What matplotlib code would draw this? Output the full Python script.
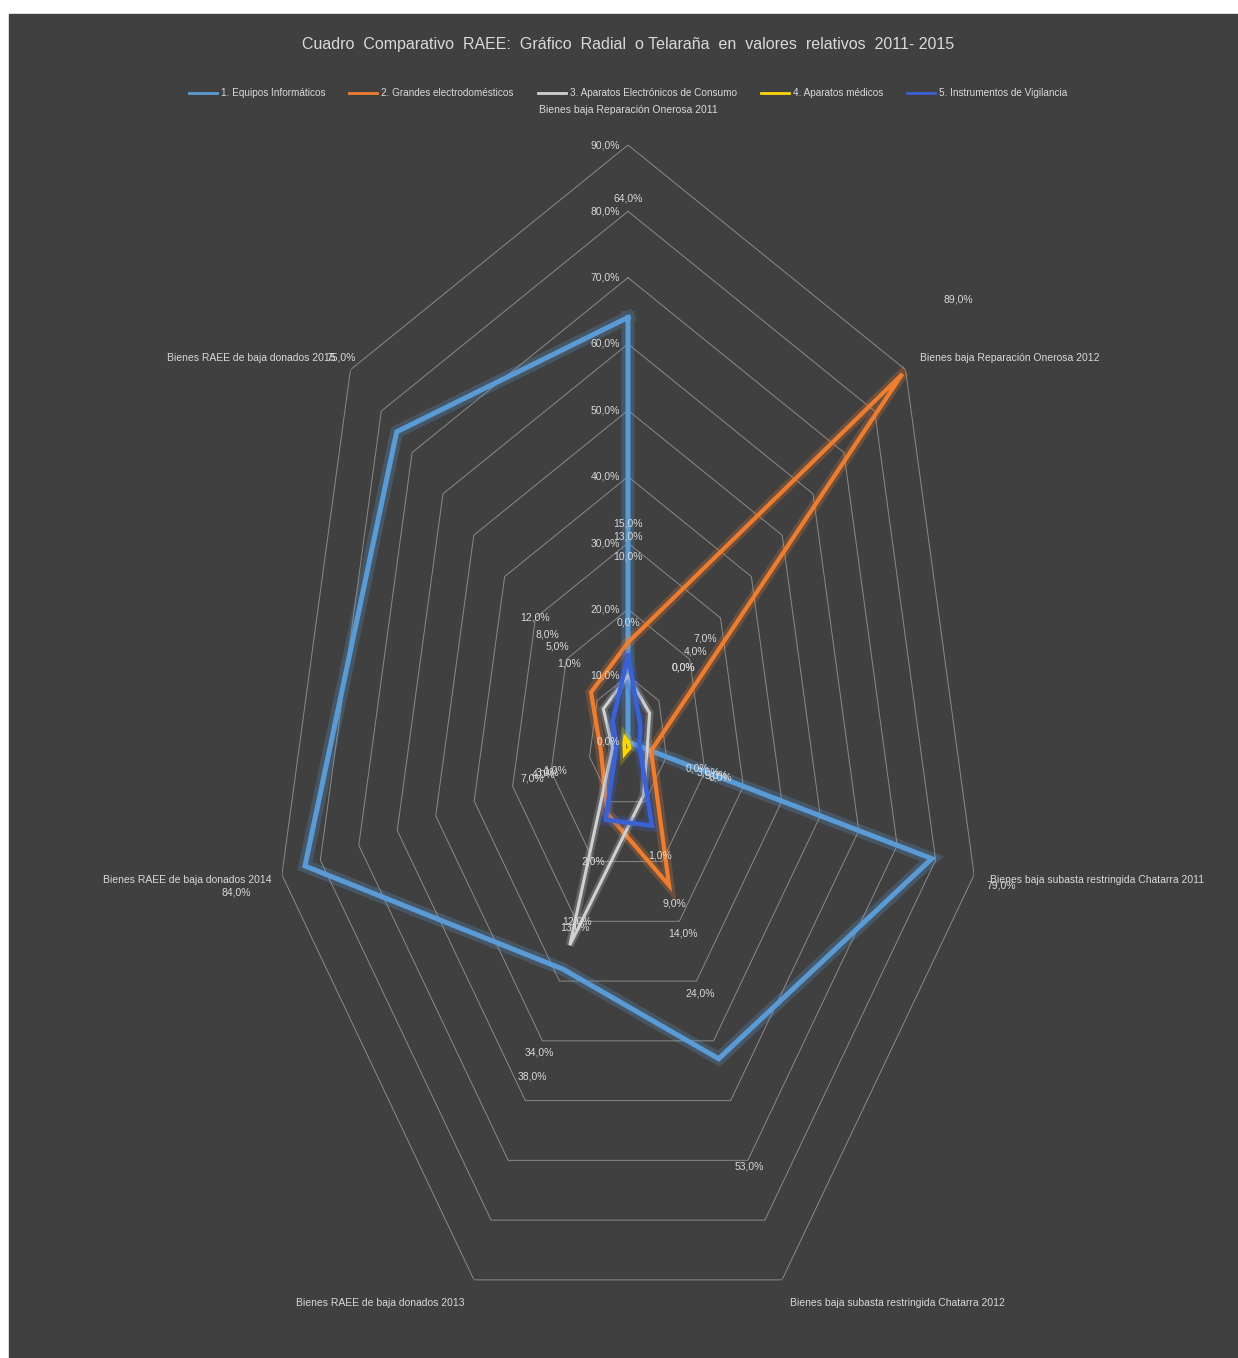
import numpy as np
import matplotlib
matplotlib.use("Agg")
import matplotlib.pyplot as plt
from matplotlib.patches import Rectangle
from matplotlib.lines import Line2D

# --- datos (valores relativos, %) ---
categorias = [
    "Bienes baja Reparación Onerosa 2011",
    "Bienes baja Reparación Onerosa 2012",
    "Bienes baja subasta restringida Chatarra 2011",
    "Bienes baja subasta restringida Chatarra 2012",
    "Bienes RAEE de baja donados 2013",
    "Bienes RAEE de baja donados 2014",
    "Bienes RAEE de baja donados 2015",
]
series = [
    "1. Equipos Informáticos",
    "2. Grandes electrodomésticos",
    "3. Aparatos Electrónicos de Consumo",
    "4. Aparatos médicos",
    "5. Instrumentos de Vigilancia",
]
equipos_informaticos = [64, 0, 79, 53, 38, 84, 75]
grandes_electro = [15, 89, 6, 24, 12, 7, 12]
electronicos_consumo = [10, 7, 5, 9, 34, 4, 8]
aparatos_medicos = [0, 0, 0, 1, 2, 1, 1]
vigilancia = [13, 4, 3, 14, 13, 3, 5]
valores = [equipos_informaticos, grandes_electro, electronicos_consumo,
           aparatos_medicos, vigilancia]
niveles = [0, 10, 20, 30, 40, 50, 60, 70, 80, 90]

colores = ["#5B9BD5", "#ED7D31", "#D0D0D0", "#FFD700", "#3A62D4"]
grosor = [3.6, 3.0, 2.2, 2.6, 3.2]
fondo = "#404040"
texto = "#D9D9D9"

plt.rcParams['font.family'] = ['Liberation Sans Narrow', 'Liberation Sans', 'DejaVu Sans']

W, H = 1238, 1358
fig = plt.figure(figsize=(W / 100, H / 100), dpi=100, facecolor="white")
fig.patches.append(Rectangle((9 / W, 0), 1 - 9 / W, 1 - 14 / H,
                             transform=fig.transFigure, color=fondo, zorder=-5))

# centro (628, 742), radio x 355 px, radio y 597 px
cx, cy, rx, ry = 628, 742, 355, 597
ax = fig.add_axes([(cx - rx) / W, (H - cy - ry) / H, 2 * rx / W, 2 * ry / H],
                  projection="polar")
ax.set_aspect("auto")
ax.patch.set_visible(False)
ax.set_theta_zero_location("N")
ax.set_theta_direction(-1)
ax.set_ylim(0, 90)
ax.grid(False)
ax.spines["polar"].set_visible(False)
ax.set_xticks([])
ax.set_yticks([])

n = len(categorias)
ang = np.linspace(0, 2 * np.pi, n, endpoint=False)
ang_c = np.append(ang, ang[0])

# anillos heptagonales
for lv in niveles[1:]:
    ax.plot(ang_c, [lv] * (n + 1), color="#8A8A8A", lw=0.7, zorder=1)

# series con efecto brillo
for i, vals in enumerate(valores):
    v = np.append(vals, vals[0])
    ax.plot(ang_c, v, color=colores[i], lw=grosor[i] * 2.6, alpha=0.25,
            solid_joinstyle="miter", zorder=2 + i)
    ax.plot(ang_c, v, color=colores[i], lw=grosor[i], solid_joinstyle="miter",
            zorder=2.5 + i)

# etiquetas del eje de valores
for lv in niveles:
    ax.annotate(f"{lv},0%", xy=(0, lv), xytext=(-8, 0), textcoords="offset pixels",
                ha="right", va="center", fontsize=7.5, color=texto, zorder=20)

# etiquetas de datos (desplazadas hacia fuera como en el original)
for i, vals in enumerate(valores):
    for k, val in enumerate(vals):
        ax.text(ang[k], val + 18, f"{val},0%", ha="center", va="center",
                fontsize=7.5, color=texto, zorder=20)

# etiquetas de categorias
desplaz = [(0, 35, "center"), (14, 12, "left"), (16, -5, "left"), (8, -23, "left"),
           (-9, -23, "right"), (-10, -5, "right"), (-15, 12, "right")]
for k, cat in enumerate(categorias):
    dx, dy, ha = desplaz[k]
    ax.annotate(cat, xy=(ang[k], 90), xytext=(dx, dy), textcoords="offset pixels",
                ha=ha, va="center", fontsize=7.5, color=texto, zorder=20)

fig.text(cx / W, 1 - 45 / H,
         "Cuadro  Comparativo  RAEE:  Gráfico  Radial  o Telaraña  en  valores  relativos  2011- 2015",
         ha="center", va="center", fontsize=11.5, color=texto)

handles = [Line2D([], [], color=c, lw=2) for c in colores]
leg = fig.legend(handles, series, ncol=5, loc="center",
                 bbox_to_anchor=(cx / W, 1 - 93 / H), frameon=False,
                 fontsize=7.2, handlelength=2.8, columnspacing=2.4,
                 handletextpad=0.4)
for t in leg.get_texts():
    t.set_color(texto)

fig.savefig("out.png", dpi=100, facecolor=fig.get_facecolor())
